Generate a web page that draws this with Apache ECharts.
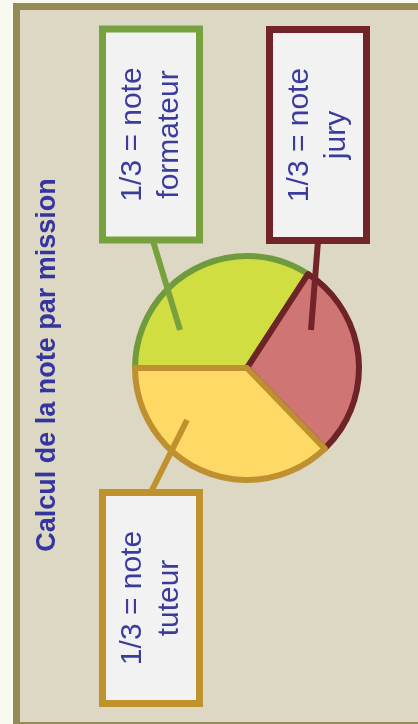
<!DOCTYPE html>
<html><head><meta charset="utf-8">
<style>html,body{margin:0;padding:0;background:#f8f9ef;} #c{width:418px;height:724px;}</style>
<script src="https://cdn.jsdelivr.net/npm/echarts@6/dist/echarts.min.js"></script>
</head><body><div id="c"></div>
<script>
// ---- data ----
const title = 'Calcul de la note par mission';
const categories = ['formateur', 'jury', 'tuteur'];
const labelPrefix = '1/3 = note';
const values = [123, 103, 134]; // drawn share of each slice (degrees)
const fillColors = ['#d0de41', '#cf7573', '#ffd966'];
const borderColors = ['#6f9b3d', '#6e2327', '#bf9030'];
const boxBorderColors = ['#77a13f', '#722428', '#c0922e'];

// ---- layout (positions only) ----
const layout = {
  center: [247, 368], radius: 112,
  boxes: [[151, 134.5], [318, 135], [151, 598]],
  lineStart: [[153, 241], [318, 241], [151, 492]],
  lineEnd: [[180, 330], [311, 330], [187, 420]]
};

const chart = echarts.init(document.getElementById('c'), null, {renderer: 'canvas'});
const leaderLines = categories.map((c, i) => ({
  type: 'line', z: 10, silent: true,
  shape: {x1: layout.lineStart[i][0], y1: layout.lineStart[i][1], x2: layout.lineEnd[i][0], y2: layout.lineEnd[i][1]},
  style: {stroke: boxBorderColors[i], lineWidth: 6}
}));
const option = {
  animation: false,
  backgroundColor: '#f8f9ef',
  graphic: [
    {type: 'rect', shape: {x: 13, y: 3, width: 500, height: 800}, style: {fill: '#948a54'}, silent: true},
    {type: 'rect', shape: {x: 20, y: 10, width: 500, height: 712}, style: {fill: '#ddd8c3'}, silent: true},
    {type: 'text', x: 48, y: 365, rotation: Math.PI / 2, silent: true,
      style: {text: title, fill: '#3535a0', font: 'bold 27px "Liberation Sans"', align: 'center', verticalAlign: 'middle'}}
  ].concat(leaderLines),
  series: [{
    type: 'pie',
    center: layout.center,
    radius: layout.radius,
    startAngle: 180,
    clockwise: true,
    avoidLabelOverlap: false,
    emphasis: {disabled: true},
    data: categories.map((c, i) => ({
      name: c, value: values[i],
      itemStyle: {color: fillColors[i], borderColor: borderColors[i], borderWidth: 6, borderJoin: 'round'},
      label: {borderColor: boxBorderColors[i]}
    })),
    label: {
      show: true, position: 'outside', rotate: 90,
      formatter: labelPrefix + '\n{b}',
      color: '#3b3b9e', fontFamily: 'Liberation Sans', fontSize: 30, lineHeight: 37,
      backgroundColor: '#f2f2f2', borderWidth: 7,
      width: 204, padding: [8, 0], align: 'center', overflow: 'none'
    },
    labelLine: {show: false},
    labelLayout: function (p) {
      const i = p.dataIndex;
      return {x: layout.boxes[i][0], y: layout.boxes[i][1], align: 'center', verticalAlign: 'middle'};
    }
  }]
};
chart.setOption(option);
</script>
</body></html>
